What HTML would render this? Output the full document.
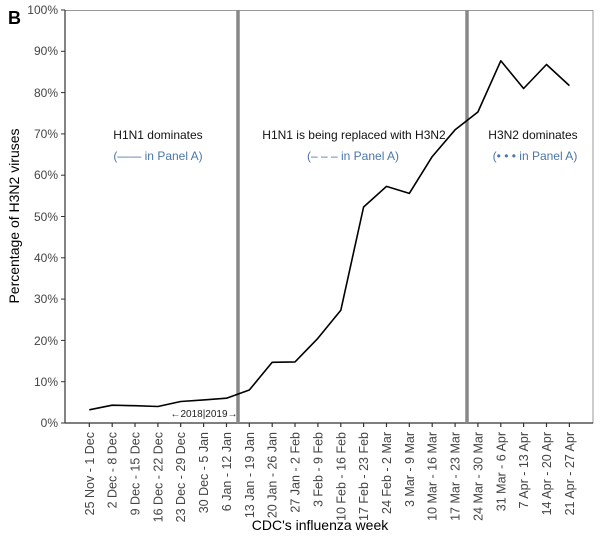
<!DOCTYPE html>
<html><head><meta charset="utf-8"><style>
html,body{margin:0;padding:0;background:#fff;}
svg{display:block;font-family:"Liberation Sans",Arial,sans-serif;}
</style></head><body>
<svg width="604" height="540" viewBox="0 0 604 540" xmlns="http://www.w3.org/2000/svg">
<rect width="604" height="540" fill="#fff"/>
<text x="8" y="24" font-size="18" font-weight="bold" fill="#000">B</text>
<rect x="65" y="10.5" width="528" height="412.5" fill="none" stroke="#999" stroke-width="1"/>
<line x1="65" y1="10" x2="65" y2="423" stroke="#333" stroke-width="1.2"/>
<line x1="65" y1="423" x2="593" y2="423" stroke="#333" stroke-width="1.2"/>
<g font-size="12" fill="#444" text-anchor="end">
<line x1="61" y1="423" x2="65" y2="423" stroke="#333"/><text x="58" y="427">0%</text>
<line x1="61" y1="381.7" x2="65" y2="381.7" stroke="#333"/><text x="58" y="386">10%</text>
<line x1="61" y1="340.4" x2="65" y2="340.4" stroke="#333"/><text x="58" y="345">20%</text>
<line x1="61" y1="299.1" x2="65" y2="299.1" stroke="#333"/><text x="58" y="303">30%</text>
<line x1="61" y1="257.8" x2="65" y2="257.8" stroke="#333"/><text x="58" y="262">40%</text>
<line x1="61" y1="216.5" x2="65" y2="216.5" stroke="#333"/><text x="58" y="221">50%</text>
<line x1="61" y1="175.2" x2="65" y2="175.2" stroke="#333"/><text x="58" y="179">60%</text>
<line x1="61" y1="133.9" x2="65" y2="133.9" stroke="#333"/><text x="58" y="138">70%</text>
<line x1="61" y1="92.6" x2="65" y2="92.6" stroke="#333"/><text x="58" y="97">80%</text>
<line x1="61" y1="51.3" x2="65" y2="51.3" stroke="#333"/><text x="58" y="55">90%</text>
<line x1="61" y1="10" x2="65" y2="10" stroke="#333"/><text x="58" y="14">100%</text>
</g>
<text transform="translate(19,216) rotate(-90)" font-size="14" fill="#000" text-anchor="middle">Percentage of H3N2 viruses</text>
<line x1="238" y1="10" x2="238" y2="423" stroke="#888" stroke-width="3.5"/>
<line x1="467" y1="10" x2="467" y2="423" stroke="#888" stroke-width="3.5"/>
<g stroke="#333" stroke-width="1.2">
<line x1="89.3" y1="423" x2="89.3" y2="427"/><line x1="112.2" y1="423" x2="112.2" y2="427"/><line x1="135.0" y1="423" x2="135.0" y2="427"/><line x1="157.9" y1="423" x2="157.9" y2="427"/><line x1="180.7" y1="423" x2="180.7" y2="427"/><line x1="203.6" y1="423" x2="203.6" y2="427"/><line x1="226.5" y1="423" x2="226.5" y2="427"/><line x1="249.3" y1="423" x2="249.3" y2="427"/><line x1="272.2" y1="423" x2="272.2" y2="427"/><line x1="295.0" y1="423" x2="295.0" y2="427"/><line x1="317.9" y1="423" x2="317.9" y2="427"/><line x1="340.8" y1="423" x2="340.8" y2="427"/><line x1="363.6" y1="423" x2="363.6" y2="427"/><line x1="386.5" y1="423" x2="386.5" y2="427"/><line x1="409.3" y1="423" x2="409.3" y2="427"/><line x1="432.2" y1="423" x2="432.2" y2="427"/><line x1="455.1" y1="423" x2="455.1" y2="427"/><line x1="477.9" y1="423" x2="477.9" y2="427"/><line x1="500.8" y1="423" x2="500.8" y2="427"/><line x1="523.6" y1="423" x2="523.6" y2="427"/><line x1="546.5" y1="423" x2="546.5" y2="427"/><line x1="569.4" y1="423" x2="569.4" y2="427"/>
</g>
<g font-size="12.5" fill="#444" text-anchor="end">
<text transform="translate(93.8,432) rotate(-90)">25 Nov - 1 Dec</text>
<text transform="translate(116.7,432) rotate(-90)">2 Dec - 8 Dec</text>
<text transform="translate(139.5,432) rotate(-90)">9 Dec - 15 Dec</text>
<text transform="translate(162.4,432) rotate(-90)">16 Dec - 22 Dec</text>
<text transform="translate(185.2,432) rotate(-90)">23 Dec - 29 Dec</text>
<text transform="translate(208.1,432) rotate(-90)">30 Dec - 5 Jan</text>
<text transform="translate(231.0,432) rotate(-90)">6 Jan - 12 Jan</text>
<text transform="translate(253.8,432) rotate(-90)">13 Jan - 19 Jan</text>
<text transform="translate(276.7,432) rotate(-90)">20 Jan - 26 Jan</text>
<text transform="translate(299.5,432) rotate(-90)">27 Jan - 2 Feb</text>
<text transform="translate(322.4,432) rotate(-90)">3 Feb - 9 Feb</text>
<text transform="translate(345.3,432) rotate(-90)">10 Feb - 16 Feb</text>
<text transform="translate(368.1,432) rotate(-90)">17 Feb - 23 Feb</text>
<text transform="translate(391.0,432) rotate(-90)">24 Feb - 2 Mar</text>
<text transform="translate(413.8,432) rotate(-90)">3 Mar - 9 Mar</text>
<text transform="translate(436.7,432) rotate(-90)">10 Mar - 16 Mar</text>
<text transform="translate(459.6,432) rotate(-90)">17 Mar - 23 Mar</text>
<text transform="translate(482.4,432) rotate(-90)">24 Mar - 30 Mar</text>
<text transform="translate(505.3,432) rotate(-90)">31 Mar - 6 Apr</text>
<text transform="translate(528.1,432) rotate(-90)">7 Apr - 13 Apr</text>
<text transform="translate(551.0,432) rotate(-90)">14 Apr - 20 Apr</text>
<text transform="translate(573.9,432) rotate(-90)">21 Apr - 27 Apr</text>
</g>
<polyline points="89.3,409.8 112.2,405.2 135.0,405.7 157.9,406.5 180.7,401.5 203.6,399.9 226.5,398.2 249.3,390.0 272.2,362.3 295.0,361.9 317.9,338.3 340.8,310.3 363.6,207.0 386.5,186.4 409.3,193.4 432.2,156.6 455.1,129.8 477.9,112.0 500.8,60.8 523.6,88.5 546.5,64.5 569.4,85.6" fill="none" stroke="#000" stroke-width="1.6" stroke-linejoin="round"/>
<text x="204" y="417" font-size="10" fill="#222" text-anchor="middle">←2018|2019→</text>
<text x="320" y="530" font-size="14" fill="#000" text-anchor="middle">CDC's influenza week</text>
<g font-size="12" text-anchor="middle">
<text x="158" y="139" fill="#111">H1N1 dominates</text>
<text x="158" y="160" fill="#4a76a8">(—— in Panel A)</text>
<text x="354" y="139" fill="#111">H1N1 is being replaced with H3N2</text>
<text x="353" y="160" fill="#4a76a8">(– – – in Panel A)</text>
<text x="533" y="139" fill="#111">H3N2 dominates</text>
<text x="535" y="160" fill="#4a76a8">(• • • in Panel A)</text>
</g>
</svg>
</body></html>
